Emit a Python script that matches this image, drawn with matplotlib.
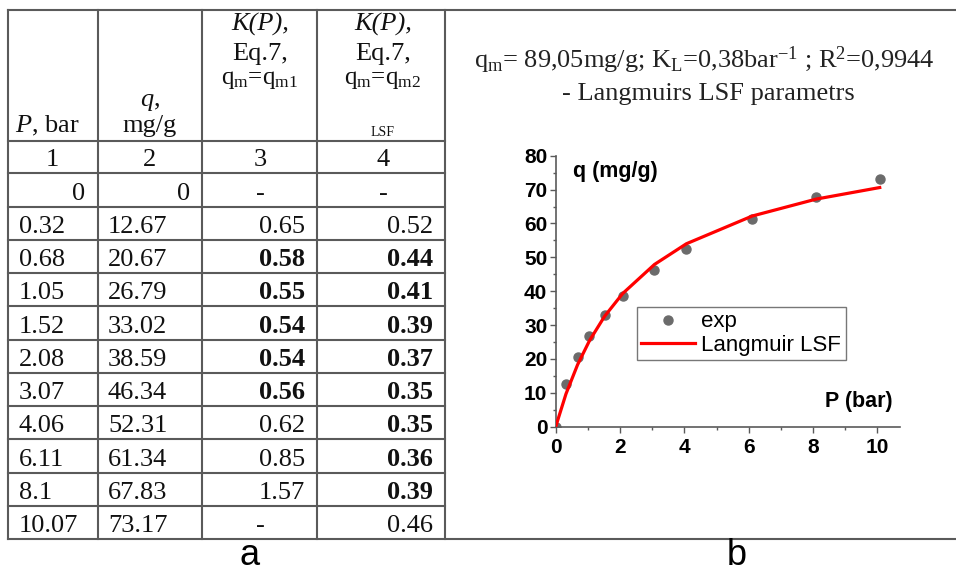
import matplotlib
matplotlib.use("Agg")
import matplotlib.pyplot as plt

# table / chart data
P = [0, 0.32, 0.68, 1.05, 1.52, 2.08, 3.07, 4.06, 6.11, 8.1, 10.07]
Q = [0, 12.67, 20.67, 26.79, 33.02, 38.59, 46.34, 52.31, 61.34, 67.83, 73.17]
K_QM1 = [None, 0.65, 0.58, 0.55, 0.54, 0.54, 0.56, 0.62, 0.85, 1.57, None]
K_QM2 = [None, 0.52, 0.44, 0.41, 0.39, 0.37, 0.35, 0.35, 0.36, 0.39, 0.46]
Q_FIT = [0, 9.7, 18.3, 25.4, 32.6, 39.3, 47.9, 54.0, 62.2, 67.2, 70.6]
COL_NUMBERS = ["1", "2", "3", "4"]

# which K cells are printed in bold
BOLD_QM1 = [False, False, True, True, True, True, True, False, False, False, False]
BOLD_QM2 = [False, False, True, True, True, True, True, True, True, True, False]

plt.rcParams["mathtext.fontset"] = "custom"
plt.rcParams["mathtext.rm"] = "Liberation Serif"
plt.rcParams["mathtext.it"] = "Liberation Serif:italic"

SERIF = "Liberation Serif"
SANS = "Liberation Sans"
LINE = "#5a5a5a"

fig = plt.figure(figsize=(9.56, 5.73), dpi=100)

# ---- panel a: the table, drawn in pixel coordinates ----
tab = fig.add_axes([0, 0, 1, 1])
tab.set_xlim(0, 956)
tab.set_ylim(573, 0)
tab.axis("off")

cols = [8, 97.7, 202.3, 317.3, 445.5]
top, head_bot, num_bot = 10, 140.7, 173.3
bottom = 539
row_h = (bottom - num_bot) / len(P)

tab.plot([cols[0], 956], [top, top], color=LINE, lw=1.5)
tab.plot([cols[0], 956], [bottom, bottom], color=LINE, lw=1.5)
for y in [head_bot, num_bot] + [num_bot + row_h * i for i in range(1, len(P))]:
    tab.plot([cols[0], cols[-1]], [y, y], color=LINE, lw=1.5)
for x in cols:
    tab.plot([x, x], [top, bottom], color=LINE, lw=1.5)

fs = 19
def txt(x, y, s, ha="left", size=fs, weight="normal", style="normal"):
    tab.text(x, y, s, ha=ha, va="baseline", fontsize=size, family=SERIF,
             fontweight=weight, fontstyle=style, color="#111111")

# header
txt(47, 132, r"$\it{P}$, bar", ha="center")
txt(150, 106, r"$\it{q}$,", ha="center")
txt(150, 132, "mg/g", ha="center")
for xc, sub in [(260, "m1"), (383, "m2")]:
    txt(xc, 31, "K(P),", ha="center", style="italic")
    txt(xc, 60, "Eq.7,", ha="center")
    txt(xc, 84, r"q$_{\mathrm{m}}$=q$_{\mathrm{%s}}$" % sub, ha="center", size=18)
txt(383, 136, "LSF", ha="center", size=10)

for xc, s in zip([52, 150, 260, 383], COL_NUMBERS):
    txt(xc, head_bot + 25.5, s, ha="center")

for i in range(len(P)):
    yb = num_bot + row_h * i + 26.3
    if i == 0:
        txt(85, yb, f"{P[i]:g}", ha="right")
        txt(190, yb, f"{Q[i]:g}", ha="right")
    else:
        txt(19, yb, f"{P[i]:g}")
        txt(108, yb, f"{Q[i]:.2f}")
    for xr, xc, vals, bold in [(305, 260, K_QM1, BOLD_QM1), (433, 383, K_QM2, BOLD_QM2)]:
        if vals[i] is None:
            txt(xc, yb, "-", ha="center")
        else:
            txt(xr, yb, f"{vals[i]:.2f}", ha="right", weight="bold" if bold[i] else "normal")

tab.text(250, 565, "a", ha="center", va="baseline", fontsize=26, family=SANS)
tab.text(737, 565, "b", ha="center", va="baseline", fontsize=26, family=SANS)

# ---- panel b: title ----
tab.text(704, 68, r"q$_{\mathrm{m}}$= 89,05mg/g; K$_{\mathrm{L}}$=0,38bar$^{\mathrm{-1}}$ ; R$^{\mathrm{2}}$=0,9944",
         ha="center", va="baseline", fontsize=19, family=SERIF, color="#222222")
tab.text(708, 100, "- Langmuirs LSF parametrs", ha="center", va="baseline",
         fontsize=19, family=SERIF, color="#222222")

# ---- panel b: isotherm plot ----
ax = fig.add_axes([555.7 / 956, (573 - 426.7) / 573, 344.3 / 956, 271 / 573])
ax.plot(P, Q, "o", color="#6b6b6b", ms=6.5, label="exp", zorder=2)
ax.plot(P, Q_FIT, "-", color="#ff0000", lw=2.3, label="Langmuir LSF", zorder=3)

ax.set_xlim(0, 10.7)
ax.set_ylim(0, 80)
ax.set_xticks([0, 2, 4, 6, 8, 10])
ax.set_xticks(range(0, 11), minor=True)
ax.set_yticks(range(0, 81, 10))
ax.set_yticks(range(0, 81, 5), minor=True)
for s in ["top", "right"]:
    ax.spines[s].set_visible(False)
for s in ["left", "bottom"]:
    ax.spines[s].set_color(LINE)
    ax.spines[s].set_linewidth(1.2)
ax.tick_params(which="both", direction="out", color=LINE, width=1)
ax.tick_params(which="major", length=4)
ax.tick_params(which="minor", length=2)
ax.tick_params(axis="y", pad=2)
ax.tick_params(axis="x", pad=4)
for lab in ax.get_xticklabels() + ax.get_yticklabels():
    lab.set_family(SANS)
    lab.set_fontweight("bold")
    lab.set_fontsize(15)
ax.patch.set_alpha(0)

ax.text(0.049, 0.941, "q (mg/g)", transform=ax.transAxes, ha="left", va="center",
        fontsize=15.5, fontweight="bold", family=SANS)
ax.text(0.98, 0.092, "P (bar)", transform=ax.transAxes, ha="right", va="center",
        fontsize=15.5, fontweight="bold", family=SANS)

leg = ax.legend(loc="upper left", bbox_to_anchor=(0.236, 0.442), borderaxespad=0,
                fancybox=False, edgecolor="#777777", framealpha=1,
                prop={"family": SANS, "size": 16}, handlelength=2.4,
                handletextpad=0.3, borderpad=0.2, labelspacing=0.1)
leg.get_frame().set_linewidth(1)

fig.savefig("out.png", dpi=100)
